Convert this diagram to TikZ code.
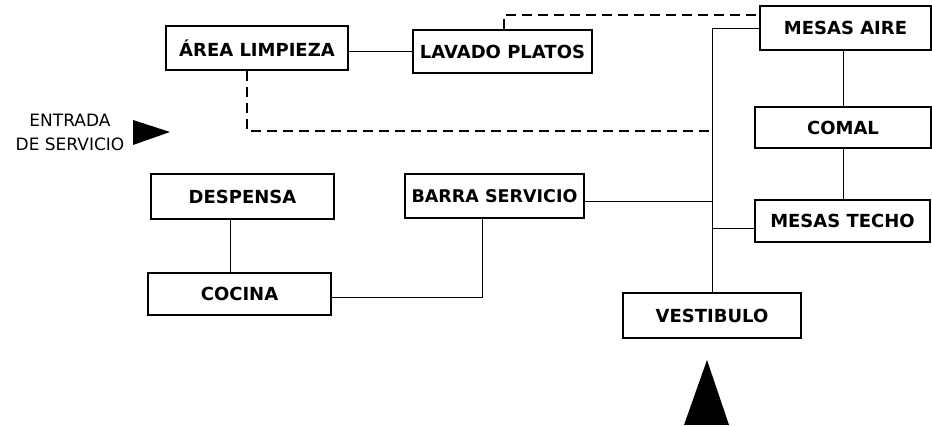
\documentclass[tikz,border=0pt]{standalone}
\usepackage{fontspec}
\setmainfont{DejaVu Sans}
\usetikzlibrary{calc}
\begin{document}
\begin{tikzpicture}[x=1pt, y=-1pt, line width=0.8pt,
  every node/.style={font=\fontsize{18}{21}\selectfont\bfseries},
  caja/.style={draw, line width=1.8pt, inner sep=0pt, minimum width=180pt, minimum height=44pt},
  punteada/.style={dashed, dash pattern=on 10pt off 6pt, line width=1.3pt}]
  \useasboundingbox (0,0) rectangle (932,427);
  % cajas, arriba a la izquierda y columna de la derecha
  \node[caja, minimum width=182pt] (limp) at (257,48) {ÁREA LIMPIEZA};
  \node[caja, minimum width=179pt, minimum height=43pt] (lavado) at (502.5,51.5) {LAVADO PLATOS};
  \node[caja, minimum width=171pt] (aire) at (845.5,28) {MESAS AIRE};
  \node[caja, minimum width=176pt, minimum height=41pt] (comal) at (843,127.5) {COMAL};
  \node[caja, minimum width=175pt, minimum height=42pt] (techo) at (842.5,221) {MESAS TECHO};
  \node[caja, minimum width=183pt, minimum height=45pt] (despensa) at (242.5,196.5) {DESPENSA};
  \node[caja, minimum width=179pt, font=\fontsize{17.5}{20}\selectfont\bfseries] (barra) at (494.5,196) {BARRA SERVICIO};
  \node[caja, minimum width=183pt, minimum height=42pt] (cocina) at (239.5,294) {COCINA};
  \node[caja, minimum width=178pt, minimum height=45pt] (vest) at (712,315.5) {VESTIBULO};
  \node[align=center, font=\fontsize{17}{24}\selectfont] (entrada) at (70,132) {ENTRADA\\DE SERVICIO};
  % flechas de entrada
  \fill (133,120) -- (170,132) -- (133,145) -- cycle;
  \fill (707,360) -- (729,425) -- (684,425) -- cycle;
  % conexiones
  \draw (lavado.west) -- (lavado.west -| limp.east);
  \draw (aire.west) -| (vest.north);
  \draw ([yshift=-7pt]techo.west) -- ([yshift=-7pt]techo.west -| vest.north);
  \draw ([yshift=-5pt]barra.east) -- ([yshift=-5pt]barra.east -| vest.north);
  \draw (comal.north) -- (comal.north |- aire.south);
  \draw (comal.south) -- (comal.south |- techo.north);
  \draw ([xshift=-9pt]cocina.north) -- ([xshift=-9pt]cocina.north |- despensa.south);
  \draw ([yshift=-3pt]cocina.east) -| ([xshift=-12pt]barra.south);
  \coordinate (ret) at ($(limp.south)+(-10,60)$);
  \draw[punteada] ([xshift=1.5pt]lavado.north) |- ([yshift=13pt]aire.west);
  \draw[punteada] ([xshift=-10pt]limp.south) |- (ret -| vest.north);
\end{tikzpicture}
\end{document}
